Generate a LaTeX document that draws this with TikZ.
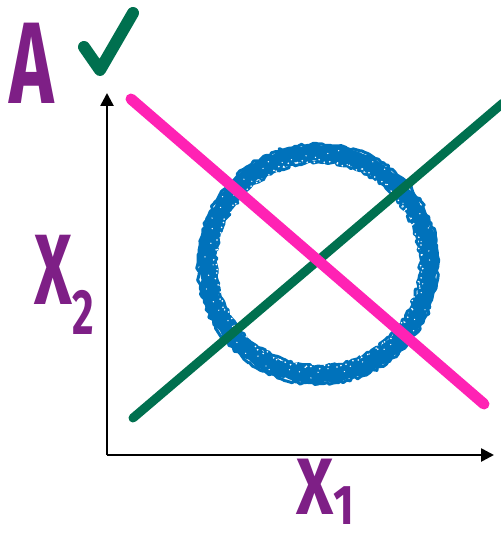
\documentclass[tikz,border=0pt]{standalone}
\usepackage{fontspec}
\setmainfont{Fira Sans}
\usetikzlibrary{arrows.meta,calc,decorations.pathmorphing}
\definecolor{penpurple}{HTML}{7E1F86}
\definecolor{pengreen}{HTML}{00704F}
\definecolor{penpink}{HTML}{FF22B4}
\definecolor{penblue}{HTML}{0072BB}
\tikzset{
  axis/.style={line width=2.6pt,-{Triangle[length=13pt,width=13pt]}},
  pen/.style={line cap=round,line join=round},
  rough/.style={decorate,decoration={random steps,segment length=3pt,amplitude=1.6pt}},
  handtext/.style={text=penpurple,font=\bfseries,inner sep=0pt},
}
\begin{document}
\begin{tikzpicture}[x=1pt,y=-1pt]
  \useasboundingbox (0,0) rectangle (500,540);
  \pgfmathsetseed{11}
  % axes
  \coordinate (O) at (107,455);
  \coordinate (Xend) at (494,455);
  \coordinate (Yend) at (107,93);
  \draw[axis] (O) -- (Xend);
  \draw[axis] (O) -- (Yend);
  % blue ring, chalky
  \coordinate (C) at (318,264);
  \draw[penblue,pen,line width=16pt,rough] (C) circle (111);
  \draw[penblue,pen,line width=3pt,rough] (C) circle (120);
  \draw[penblue,pen,line width=3pt,rough] (C) circle (102);
  \foreach \t in {0,3,...,357}{
    \pgfmathsetmacro{\ang}{\t+2*rand}
    \pgfmathsetmacro{\rad}{103+2*rand}
    \fill[white] (C) ++(\ang:\rad pt) circle (0.9);
  }
  \foreach \t in {1,7,...,355}{
    \pgfmathsetmacro{\ang}{\t+2*rand}
    \pgfmathsetmacro{\rad}{110+7*rand}
    \fill[white] (C) ++(\ang:\rad pt) circle (0.7);
  }
  % the two lines
  \coordinate (Pa) at (131,99);
  \coordinate (Pb) at (484,404);
  \coordinate (Ga) at (133,418);
  \coordinate (Gb) at (503,103);
  \draw[pengreen,pen,line width=9pt] (Ga) -- (Gb);
  \draw[penpink,pen,line width=11pt] (Pa) -- (Pb);
  % labels
  \node[handtext,xscale=0.65] (A) at (32,63) {\fontsize{116}{116}\selectfont A};
  \coordinate (Ka) at (84,47);
  \coordinate (Kb) at (100,70);
  \coordinate (Kc) at (133,13);
  \draw[pengreen,pen,line width=12pt] (Ka) -- (Kb) -- (Kc);
  \node[handtext,xscale=0.65] (X2) at (64,285)
    {\fontsize{100}{100}\selectfont X\raisebox{-0.3em}{\fontsize{64}{64}\selectfont 2}};
  \node[handtext,xscale=0.8] (X1) at (325,492)
    {\fontsize{80}{80}\selectfont X\raisebox{-0.12em}{\fontsize{56}{56}\selectfont 1}};
\end{tikzpicture}
\end{document}
